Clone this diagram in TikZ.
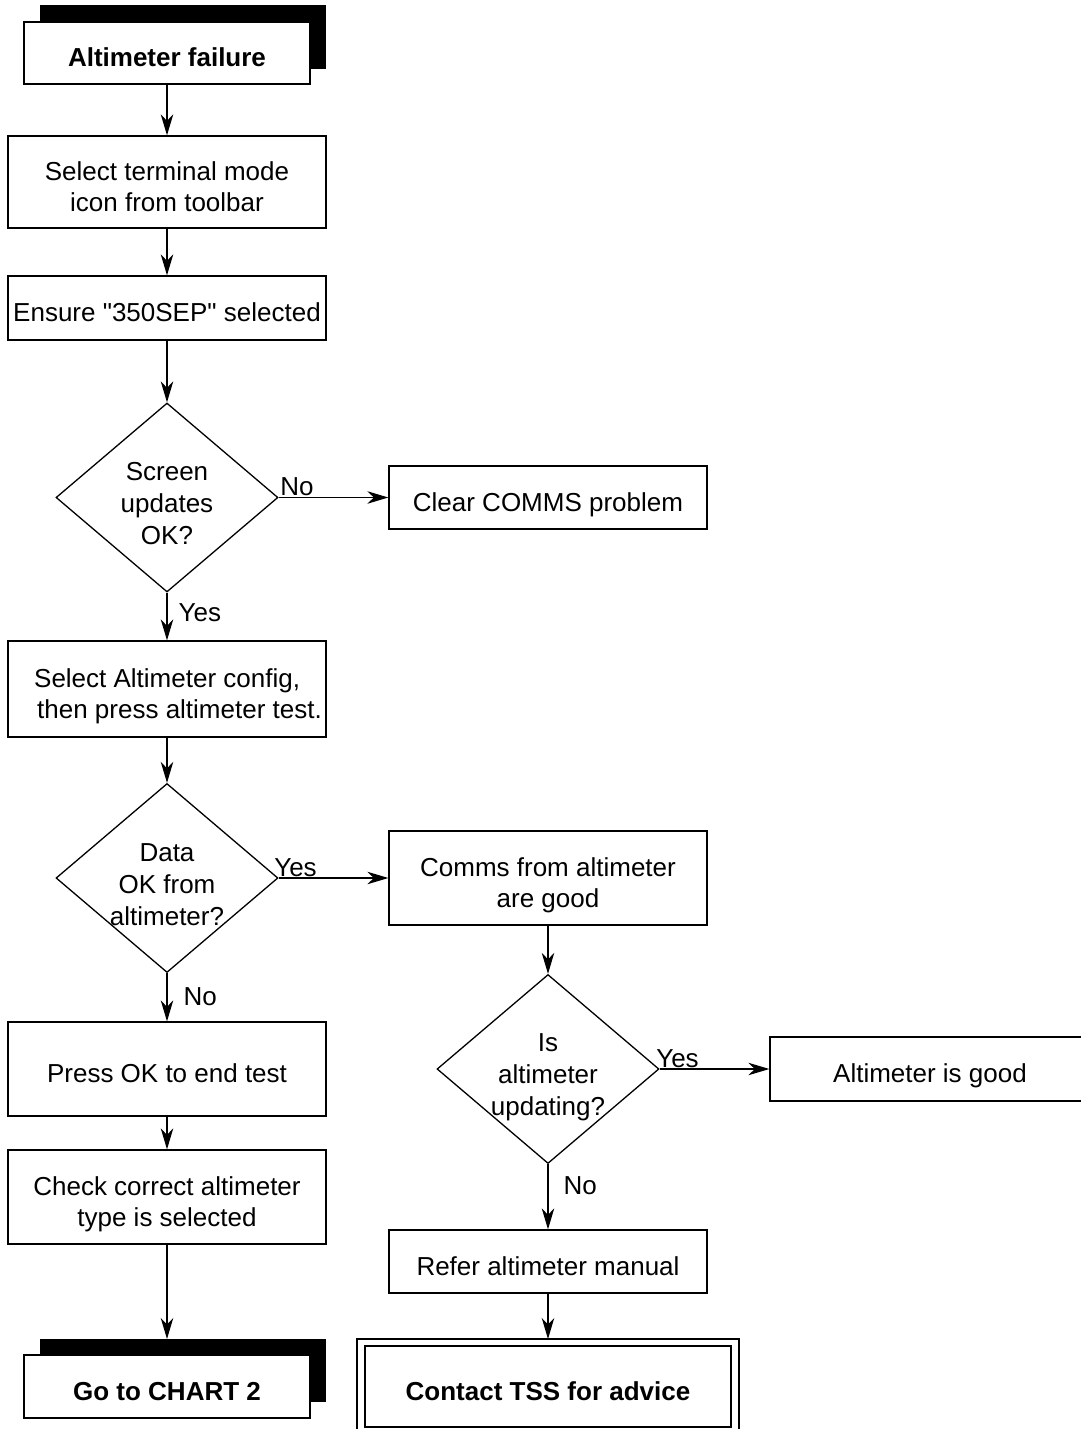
\documentclass[tikz,border=0pt]{standalone}
\usepackage{fontspec}
\setmainfont{Liberation Sans}[Ligatures=TeXOff]
\usetikzlibrary{shapes.geometric,arrows.meta}
\newsavebox\mlbox
\newcommand\ml[2][c]{\sbox\mlbox{\begin{tabular}{@{}#1@{}}#2\end{tabular}}\raisebox{0pt}[\dimexpr\ht\mlbox+15pt\relax][\dp\mlbox]{\usebox\mlbox}}
\begin{document}
\begin{tikzpicture}[x=1pt,y=-1pt,
  line width=1.3pt,
  txt/.style={font=\fontsize{26}{31}\selectfont},
  dtxt/.style={font=\fontsize{26}{32}\selectfont, align=center},
  boldtxt/.style={font=\fontsize{26}{31}\selectfont\bfseries},
  box/.style={draw, fill=white, txt, inner sep=0pt, minimum width=318pt},
  dia/.style={draw, diamond, minimum width=222pt, minimum height=189pt, inner sep=0pt},
  arr/.style={-{Stealth[length=21pt,width=12.5pt,inset=6.5pt]}},
  lbl/.style={font=\fontsize{26}{31}\selectfont, inner sep=1pt}]
\useasboundingbox (0,0) rectangle (1080,1429);
% start
\fill (40,5) rectangle (326,69);
\node[box, boldtxt, minimum width=286pt, minimum height=62pt] (start) at (167,53) {\ml{Altimeter failure}};
\node[box, minimum height=92pt] (b1) at (167,182) {\ml{Select terminal mode\\icon from toolbar}};
\node[box, minimum height=64pt] (b2) at (167,308) {\ml{Ensure "350SEP" selected}};
\node[dia] (d1) at (167,497.5) {};
\node[dtxt] (t1) at (167,504) {Screen\\updates\\OK?};
\node[box, minimum height=63pt] (clear) at (548,497.5) {\ml{Clear COMMS problem}};
\node[box, minimum height=96pt] (b3) at (167,689) {\hspace*{22pt}\ml[l]{Select Altimeter config,\\\hspace*{3pt}then press altimeter test.}};
\node[dia] (d2) at (167,878) {};
\node[dtxt] (t2) at (167,884.5) {Data\\OK from\\altimeter?};
\node[box, minimum height=94pt] (comms) at (548,878) {\ml{Comms from altimeter\\are good}};
\node[dia] (d3) at (548,1069) {};
\node[dtxt] (t3) at (548,1077.5) {Is\\altimeter\\updating?};
\node[box, minimum width=320pt, minimum height=64pt] (good) at (930,1069) {\ml{Altimeter is good}};
\node[box, minimum height=94pt] (press) at (167,1069) {\ml{Press OK to end test}};
\node[box, minimum height=94pt] (check) at (167,1197) {\ml{Check correct altimeter\\type is selected}};
\node[box, minimum height=63pt] (refer) at (548,1261.5) {\ml{Refer altimeter manual}};
% go to chart 2
\fill (40,1339) rectangle (326,1402);
\coordinate (chartTop) at (167,1339);
\node[box, boldtxt, minimum width=286pt, minimum height=63pt] (chart) at (167,1386.5) {\ml{Go to CHART 2}};
% contact TSS
\draw (357,1440) -- (357,1339) -- (739,1339) -- (739,1440);
\coordinate (tssTop) at (548,1339);
\node[box, boldtxt, minimum width=366pt, minimum height=81pt] (tss) at (548,1386.5) {\ml{Contact TSS for advice}};
% connectors
\draw[arr] (start) -- (b1);
\draw[arr] (b1) -- (b2);
\draw[arr] (b2) -- (d1);
\draw[arr] (d1.east) -- (clear);
\draw[arr] (d1.south) -- (b3);
\draw[arr] (b3) -- (d2.north);
\draw[arr] (d2.east) -- (comms);
\draw[arr] (d2.south) -- (press);
\draw[arr] (comms) -- (d3.north);
\draw[arr] (d3.east) -- (good);
\draw[arr] (d3.south) -- (refer);
\draw[arr] (press) -- (check);
\draw[arr] (check) -- (chartTop);
\draw[arr] (refer) -- (tssTop);
% labels
\node[lbl, anchor=south west] (l1) at (d1.east) {No};
\node[lbl, anchor=north west, xshift=10pt, yshift=-9pt] (l2) at (d1.south) {Yes};
\node[lbl, anchor=south west, xshift=-6pt] (l3) at (d2.east) {Yes};
\node[lbl, anchor=north west, xshift=15pt, yshift=-13pt] (l4) at (d2.south) {No};
\node[lbl, anchor=south west, xshift=-5pt] (l5) at (d3.east) {Yes};
\node[lbl, anchor=north west, xshift=14pt, yshift=-11pt] (l6) at (d3.south) {No};
\end{tikzpicture}
\end{document}
